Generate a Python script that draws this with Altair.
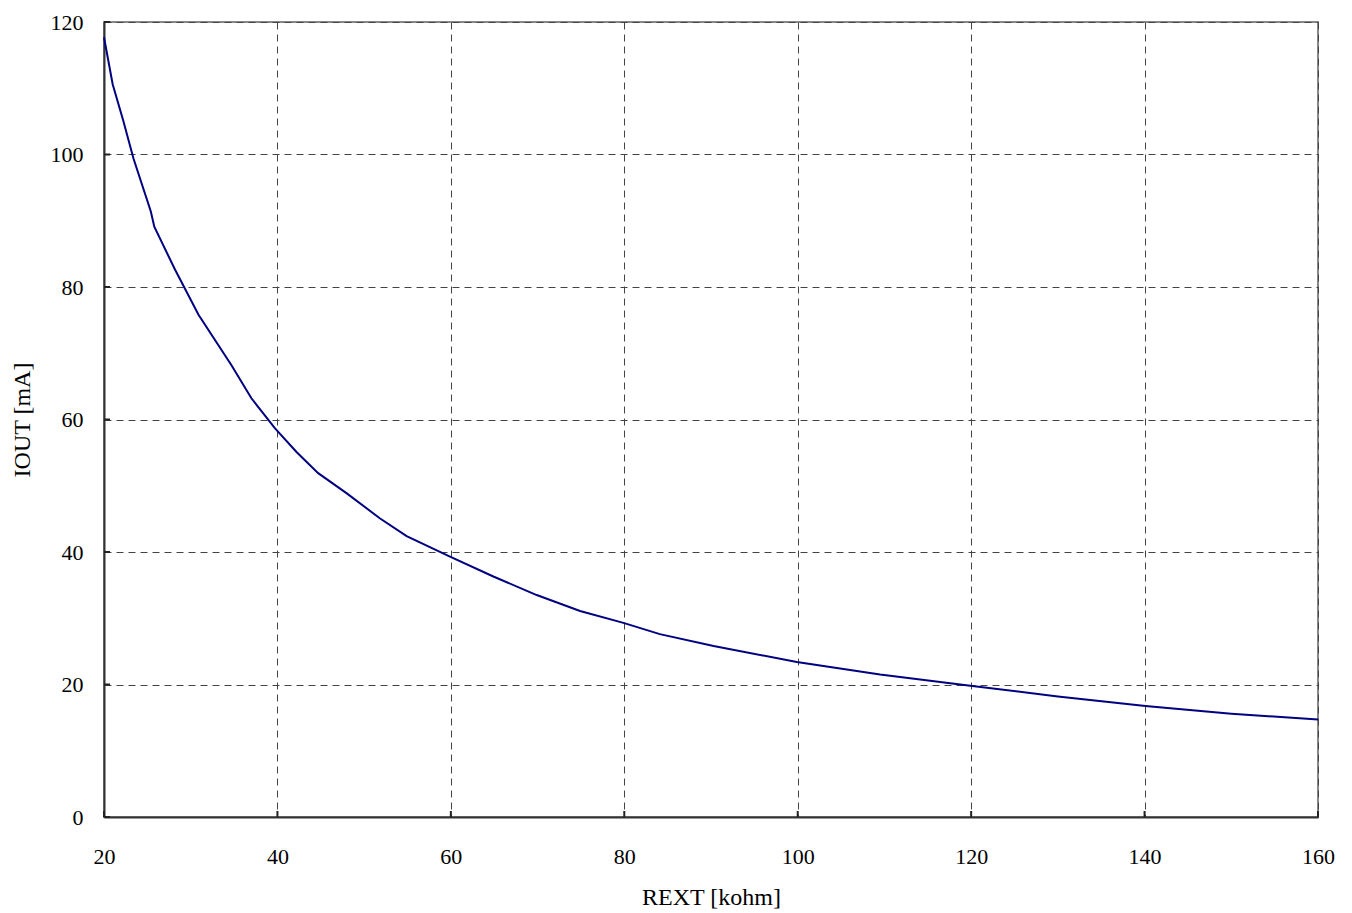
import altair as alt
import pandas as pd

rext = [20, 21, 22.2, 23.4, 25.4, 25.8, 28.2, 30.9, 34.7, 37.0, 39.7, 42.2, 44.7,
        48.0, 51.8, 54.9, 59.9, 64.9, 69.9, 74.9, 79.9, 84.1, 90.3, 99.9, 109.5,
        119.9, 130, 140.1, 150, 160]
iout = [117.7, 110.6, 105.2, 99.4, 91.4, 89.1, 82.6, 75.8, 68.2, 63.2, 58.7, 55.1,
        51.9, 48.85, 45.1, 42.4, 39.3, 36.3, 33.5, 31.1, 29.3, 27.6, 25.8, 23.4,
        21.5, 19.8, 18.2, 16.75, 15.6, 14.7]
x_ticks = [20, 40, 60, 80, 100, 120, 140, 160]
y_ticks = [0, 20, 40, 60, 80, 100, 120]

df = pd.DataFrame({"REXT": rext, "IOUT": iout})
xt = pd.DataFrame({"x": x_ticks})
yt = pd.DataFrame({"y": y_ticks})

W, H = 1214, 795
FONT = "Liberation Serif"

xscale = alt.Scale(domain=[20, 160], nice=False, zero=False)
yscale = alt.Scale(domain=[0, 120], nice=False)

line = alt.Chart(df).mark_line(color="#000080", strokeWidth=2).encode(
    x=alt.X("REXT:Q", scale=xscale, title="REXT [kohm]",
            axis=alt.Axis(values=x_ticks, format="d", grid=True, gridDash=[7, 5],
                          gridColor="#444", gridWidth=1, ticks=False, labelFlush=False,
                          labelPadding=29, titlePadding=18)),
    y=alt.Y("IOUT:Q", scale=yscale, title="IOUT [mA]",
            axis=alt.Axis(values=y_ticks, format="d", grid=True, gridDash=[7, 5],
                          gridColor="#444", gridWidth=1, ticks=False, labelFlush=False,
                          labelPadding=21, titlePadding=16)),
)

xtick = alt.Chart(xt).mark_rule(color="#222", strokeWidth=2).encode(
    x=alt.X("x:Q", scale=xscale), y=alt.value(H), y2=alt.value(H - 6))
ytick = alt.Chart(yt).mark_rule(color="#222", strokeWidth=2).encode(
    y=alt.Y("y:Q", scale=yscale), x=alt.value(0), x2=alt.value(6))

chart = alt.layer(line, xtick, ytick).properties(
    width=W, height=H,
    background="white",
    autosize=alt.AutoSizeParams(type="none"),
    padding={"left": 96, "top": 14, "right": 20, "bottom": 100},
).configure_view(
    stroke="#888", strokeWidth=2
).configure_axis(
    domainColor="#333", domainWidth=2,
    labelFont=FONT, labelFontSize=22, labelColor="#000",
    titleFont=FONT, titleFontSize=24, titleFontWeight="normal", titleColor="#000",
)

chart.save("out.html", embed_options={"renderer": "svg", "actions": False})
